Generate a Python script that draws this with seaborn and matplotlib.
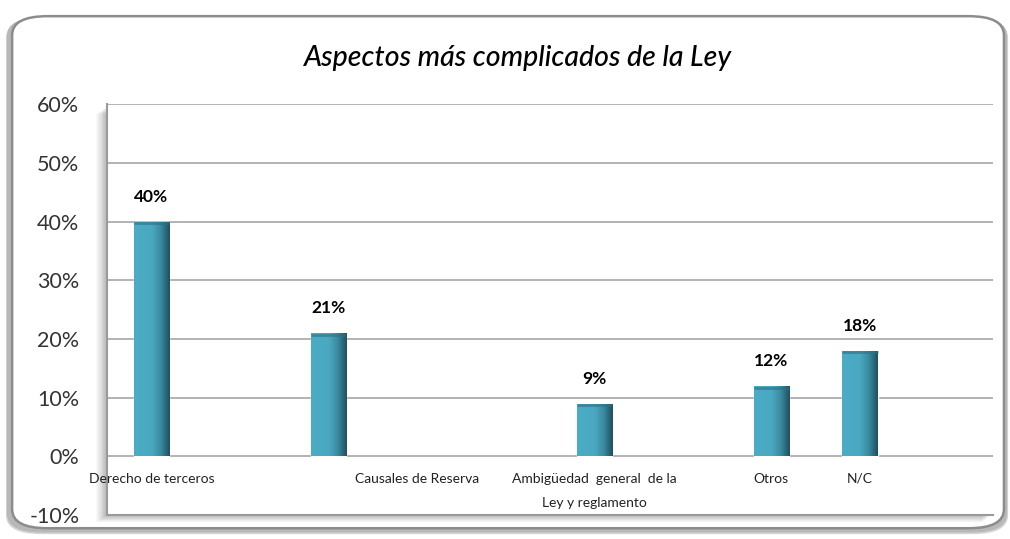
import numpy as np
import pandas as pd
import matplotlib
matplotlib.use("Agg")
import matplotlib.pyplot as plt
from matplotlib.patches import FancyBboxPatch, Rectangle
from matplotlib.colors import LinearSegmentedColormap
import seaborn as sns

# slots of the original spreadsheet, some of them empty
slots = ["s0", "s1", "s2", "s3", "s4", "s5", "s6", "s7", "s8", "s9"]
values = [40, np.nan, 21, np.nan, np.nan, 9, np.nan, 12, 18, np.nan]
# category labels as they sit under the axis (slot index -> text)
label_slots = [0, 3, 5, 7, 8]
label_texts = ["Derecho de terceros", "Causales de Reserva",
               "Ambigüedad  general  de la\nLey y reglamento", "Otros", "N/C"]
yticks = [-10, 0, 10, 20, 30, 40, 50, 60]

df = pd.DataFrame({"slot": slots, "value": values})

sns.set_theme(style="white")
plt.rcParams["font.family"] = ["Lato", "DejaVu Sans"]

fig = plt.figure(figsize=(10.1, 5.39), dpi=100)

# outer rounded frame with a soft bevel shadow
fx, fy, fw, fh = 0.008, 0.016, 0.988, 0.956
for off, col in [(0.007, "#d4d4d4"), (0.004, "#b8b8b8")]:
    fig.patches.append(FancyBboxPatch((fx - off * 0.3, fy - off), fw + off * 0.6, fh,
                                      boxstyle="round,pad=0,rounding_size=0.035",
                                      transform=fig.transFigure, facecolor=col,
                                      edgecolor="none", zorder=0))
fig.patches.append(FancyBboxPatch((fx + 0.004, fy + 0.004), fw - 0.006, fh - 0.006,
                                  boxstyle="round,pad=0,rounding_size=0.035",
                                  transform=fig.transFigure, facecolor="white",
                                  edgecolor="#8c8c8c", linewidth=1.8, zorder=1))

ax_pos = [0.106, 0.0445, 0.877, 0.762]
# soft shadow of the plot area (left and bottom)
n = 12
for k in range(n):
    dx = 0.0009 * (n - k)
    dy = 0.0011 * (n - k)
    fig.patches.append(Rectangle((ax_pos[0] - dx, ax_pos[1] - dy),
                                 ax_pos[2], ax_pos[3] - 0.004,
                                 transform=fig.transFigure, facecolor="black",
                                 alpha=0.022, edgecolor="none", zorder=1.5))

ax = fig.add_axes(ax_pos)
ax.set_zorder(2)

sns.barplot(data=df, x="slot", y="value", color="#4bacc6", width=0.4,
            ax=ax, zorder=3)

# horizontal gradient on each bar (light left, dark right edge)
cmap = LinearSegmentedColormap.from_list(
    "bar", [(0, "#4bacc6"), (0.5, "#4aa8c1"), (0.75, "#3a8aa0"), (1, "#1f5060")])
grad = np.linspace(0, 1, 64).reshape(1, -1)
for p in ax.patches:
    h = p.get_height()
    if np.isnan(h) or h == 0:
        continue
    x0 = p.get_x()
    w = p.get_width()
    im = ax.imshow(grad, cmap=cmap, aspect="auto", extent=[x0, x0 + w, 0, h],
                   zorder=4, interpolation="bicubic")
    im.set_clip_path(p)
    ax.plot([x0, x0 + w], [h - 0.3, h - 0.3], color="#2f6f82", lw=2,
            alpha=0.6, zorder=5, solid_capstyle="butt")

for c in ax.containers:
    ax.bar_label(c, labels=[("" if np.isnan(v) else f"{v:.0f}%") for v in c.datavalues],
                 padding=12, fontsize=12.5, fontweight="bold", color="black")

ax.set_xlim(-0.5, len(slots) - 0.5)
ax.set_ylim(-10, 60)
ax.set_yticks(yticks)
ax.set_yticklabels([f"{t}%" for t in yticks], fontsize=15.5, color="#333333")
ax.tick_params(axis="y", length=0, pad=20)
ax.set_xticks([])
ax.set_xlabel("")
ax.set_ylabel("")
ax.yaxis.grid(True, color="#a6a6a6", linewidth=1.2)
ax.set_axisbelow(True)

for s in ["top", "right"]:
    ax.spines[s].set_visible(False)
for s in ["left", "bottom"]:
    ax.spines[s].set_color("#9a9a9a")
    ax.spines[s].set_linewidth(1.5)

for i, t in zip(label_slots, label_texts):
    ax.text(i, -2.8, t, ha="center", va="top", fontsize=10, color="#222222",
            linespacing=2.2, zorder=6, clip_on=False)

fig.text(0.513, 0.893, "Aspectos más complicados de la Ley", ha="center",
         va="center", fontsize=20.5, style="italic", fontweight="medium",
         color="black")

fig.savefig("out.png", dpi=100)
